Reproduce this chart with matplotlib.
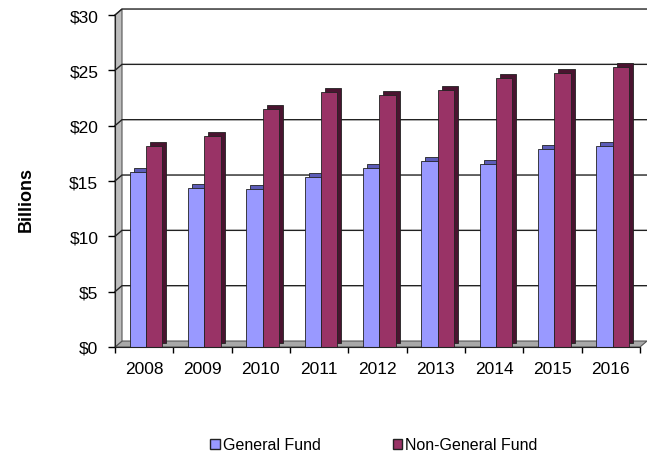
import numpy as np
import matplotlib
matplotlib.use("Agg")
import matplotlib.pyplot as plt
from matplotlib.patches import Polygon, Patch
from matplotlib.transforms import ScaledTranslation

plt.rcParams['font.family'] = ['Liberation Sans', 'DejaVu Sans']

years = ['2008', '2009', '2010', '2011', '2012', '2013', '2014', '2015', '2016']
general_fund = [15.8, 14.4, 14.3, 15.4, 16.2, 16.8, 16.5, 17.9, 18.2]
non_general_fund = [18.2, 19.1, 21.5, 23.0, 22.8, 23.2, 24.3, 24.8, 25.3]
y_ticks = [0, 5, 10, 15, 20, 25, 30]
y_labels = ['$0', '$5', '$10', '$15', '$20', '$25', '$30']

gf_front, gf_dark = '#9999ff', '#5c5cb8'
ngf_front, ngf_dark = '#993366', '#4a1430'

fig = plt.figure(figsize=(6.47, 4.56), dpi=100)
ax = fig.add_axes([115 / 647, 108 / 456, 525 / 647, 332 / 456])
ax.set_xlim(-0.5, 8.5)
ax.set_ylim(0, 30)

# depth of the back wall in data units (about 7px right, 6px up)
dx, dy = 0.12, 0.54

# floor and side wall
floor = Polygon([(-0.5, 0), (8.5, 0), (8.5 + dx, dy), (-0.5 + dx, dy)],
                closed=True, facecolor='#a8a8a8', edgecolor='#555555',
                lw=0.8, clip_on=False, zorder=1)
ax.add_patch(floor)
wall = Polygon([(-0.5, 0), (-0.5 + dx, dy), (-0.5 + dx, 30 + dy), (-0.5, 30)],
               closed=True, facecolor='#bdbdbd', edgecolor='#555555',
               lw=0.8, clip_on=False, zorder=1)
ax.add_patch(wall)

# gridlines on the back wall
for v in y_ticks[1:]:
    ax.plot([-0.5, -0.5 + dx, 8.5 + dx], [v, v + dy, v + dy],
            color='#222222', lw=1.0, clip_on=False, zorder=1.5)

x = np.arange(len(years))
w = 0.28
pos_gf = x - 0.11
pos_ngf = x + 0.17

shift = ax.transData + ScaledTranslation(4 / 100, 4 / 100, fig.dpi_scale_trans)
ax.bar(pos_gf, general_fund, w, color=gf_dark, edgecolor='#222222',
       lw=0.6, transform=shift, zorder=2)
ax.bar(pos_gf, general_fund, w, color=gf_front, edgecolor='#222222',
       lw=0.6, zorder=3)
ax.bar(pos_ngf, non_general_fund, w, color=ngf_dark, edgecolor='#222222',
       lw=0.6, transform=shift, zorder=2)
ax.bar(pos_ngf, non_general_fund, w, color=ngf_front, edgecolor='#222222',
       lw=0.6, zorder=3)

for s in ['top', 'right']:
    ax.spines[s].set_visible(False)
ax.spines['left'].set_color('#222222')
ax.spines['bottom'].set_color('#222222')
ax.spines['left'].set_zorder(4)
ax.spines['bottom'].set_zorder(4)

ax.set_yticks(y_ticks)
ax.set_yticklabels(y_labels, fontsize=12.5)
ax.tick_params(axis='y', length=5, width=1, pad=7)
ax.set_xticks(x)
ax.set_xticklabels(years, fontsize=12.5)
ax.set_xticks(np.arange(-0.5, 9, 1), minor=True)
ax.tick_params(axis='x', which='major', length=0, pad=10)
ax.tick_params(axis='x', which='minor', length=4, width=1)

fig.text(26 / 647, 1 - 200 / 456, 'Billions', rotation=90, fontsize=13,
         fontweight='bold', ha='center', va='center')

handles = [Patch(facecolor=gf_front, edgecolor='#222222', label='General Fund'),
           Patch(facecolor=ngf_front, edgecolor='#222222', label='Non-General Fund')]
fig.legend(handles=handles, loc='center', bbox_to_anchor=(0.578, 0.022),
           ncol=2, frameon=False, fontsize=11.5, handlelength=0.6,
           handleheight=0.6, handletextpad=0.2, columnspacing=4.5)

fig.savefig('out.png', dpi=100)
